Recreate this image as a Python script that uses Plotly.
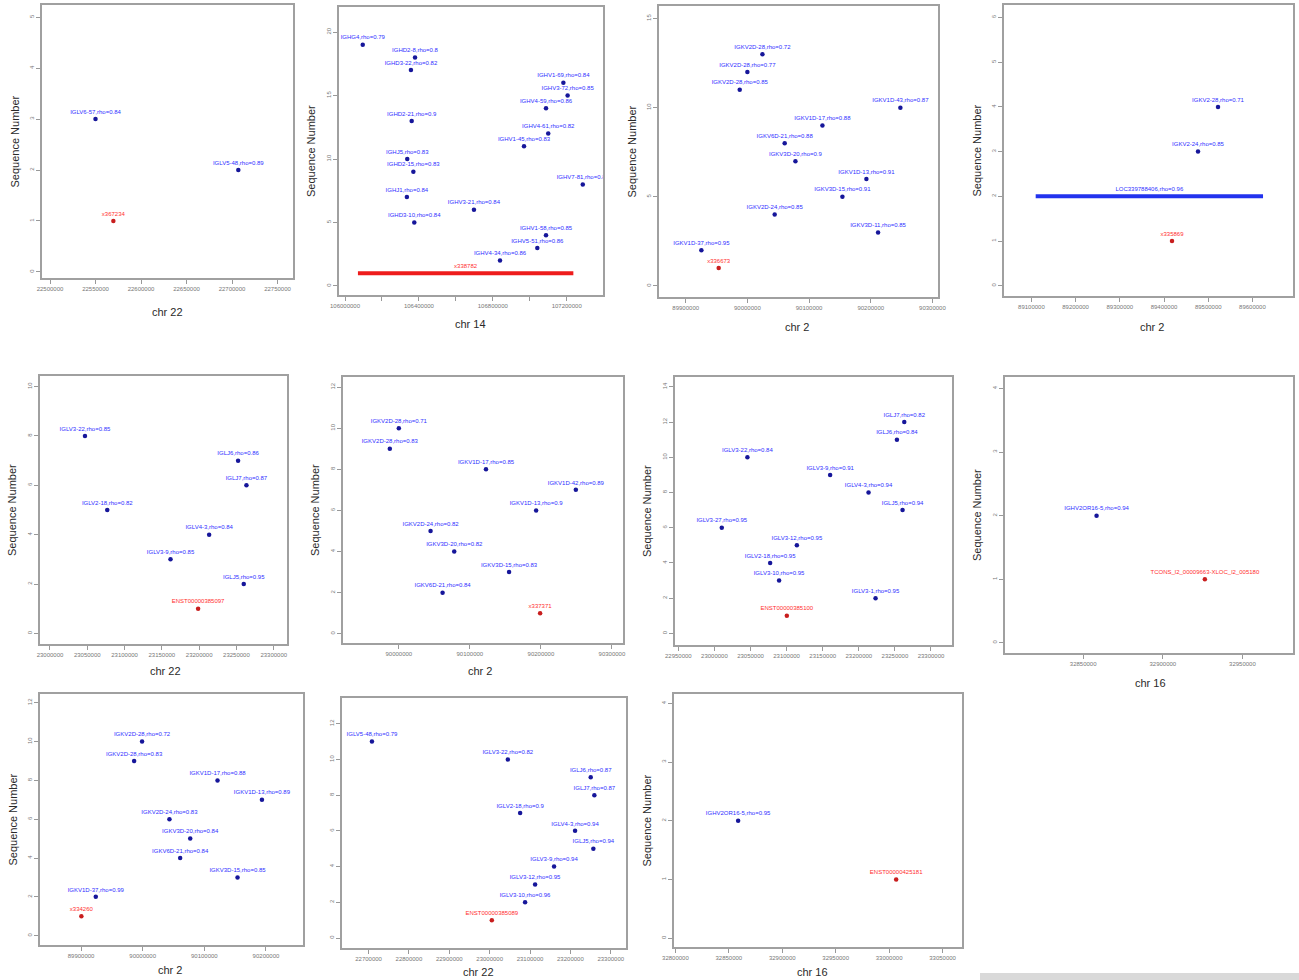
import plotly.graph_objects as go

W, H = 1299, 980

# ---------------- data ----------------
# Panel 1 (chr 22)
P1_GENES = ["IGLV6-57,rho=0.84", "IGLV5-48,rho=0.89"]
P1_POS = [22550000, 22706900]
P1_SEQ = [3, 2]
P1_TARGET = ["x367234"]
P1_TARGET_POS = [22569600]
P1_TARGET_SEQ = [1]
P1_XTICKS = [22500000, 22550000, 22600000, 22650000, 22700000, 22750000]
P1_YTICKS = [0, 1, 2, 3, 4, 5]

# Panel 2 (chr 14)
P2_GENES = ["IGHG4,rho=0.79", "IGHD2-8,rho=0.8", "IGHD3-22,rho=0.82", "IGHV1-69,rho=0.84",
            "IGHV3-72,rho=0.85", "IGHV4-59,rho=0.86", "IGHD2-21,rho=0.9", "IGHV4-61,rho=0.82",
            "IGHV1-45,rho=0.83", "IGHJ5,rho=0.83", "IGHD2-15,rho=0.83", "IGHV7-81,rho=0.84",
            "IGHJ1,rho=0.84", "IGHV3-21,rho=0.84", "IGHD3-10,rho=0.84", "IGHV1-58,rho=0.85",
            "IGHV5-51,rho=0.86", "IGHV4-34,rho=0.86"]
P2_POS = [106096000, 106379000, 106357000, 107182000, 107205000, 107088000, 106361000,
          107100000, 106969000, 106337000, 106370000, 107287000, 106335000, 106698000,
          106375000, 107088000, 107041000, 106839000]
P2_SEQ = [19, 18, 17, 16, 15, 14, 13, 12, 11, 10, 9, 8, 7, 6, 5, 4, 3, 2]
P2_TARGET = ["x338782"]
P2_TARGET_START = [106070000]
P2_TARGET_END = [107236000]
P2_TARGET_SEQ = [1]
P2_XTICKS = [106000000, 106200000, 106400000, 106600000, 106800000, 107000000, 107200000]
P2_XTICKTEXT = ["106000000", "", "106400000", "", "106800000", "", "107200000"]
P2_YTICKS = [0, 5, 10, 15, 20]

# Panel 3 (chr 2)
P3_GENES = ["IGKV2D-28,rho=0.72", "IGKV2D-28,rho=0.77", "IGKV2D-28,rho=0.85", "IGKV1D-43,rho=0.87",
            "IGKV1D-17,rho=0.88", "IGKV6D-21,rho=0.88", "IGKV3D-20,rho=0.9", "IGKV1D-13,rho=0.91",
            "IGKV3D-15,rho=0.91", "IGKV2D-24,rho=0.85", "IGKV3D-11,rho=0.85", "IGKV1D-37,rho=0.95"]
P3_POS = [90024400, 90000000, 89987600, 90248100, 90121700, 90060500, 90077900, 90193000,
          90154100, 90044300, 90211900, 89925400]
P3_SEQ = [13, 12, 11, 10, 9, 8, 7, 6, 5, 4, 3, 2]
P3_TARGET = ["x336673"]
P3_TARGET_POS = [89953500]
P3_TARGET_SEQ = [1]
P3_XTICKS = [89900000, 90000000, 90100000, 90200000, 90300000]
P3_YTICKS = [0, 5, 10, 15]

# Panel 4 (chr 2)
P4_GENES = ["IGKV2-28,rho=0.71", "IGKV2-24,rho=0.85"]
P4_POS = [89522200, 89476900]
P4_SEQ = [4, 3]
P4_SEG = ["LOC339788406,rho=0.96"]
P4_SEG_START = [89109700]
P4_SEG_END = [89624000]
P4_SEG_SEQ = [2]
P4_TARGET = ["x335869"]
P4_TARGET_POS = [89418100]
P4_TARGET_SEQ = [1]
P4_XTICKS = [89100000, 89200000, 89300000, 89400000, 89500000, 89600000]
P4_YTICKS = [0, 1, 2, 3, 4, 5, 6]

# Panel 5 (chr 22)
P5_GENES = ["IGLV3-22,rho=0.85", "IGLJ6,rho=0.86", "IGLJ7,rho=0.87", "IGLV2-18,rho=0.82",
            "IGLV4-3,rho=0.84", "IGLV3-9,rho=0.85", "IGLJ5,rho=0.95"]
P5_POS = [23046900, 23252200, 23263400, 23076800, 23213400, 23161600, 23259800]
P5_SEQ = [8, 7, 6, 5, 4, 3, 2]
P5_TARGET = ["ENST00000385097"]
P5_TARGET_POS = [23198600]
P5_TARGET_SEQ = [1]
P5_XTICKS = [23000000, 23050000, 23100000, 23150000, 23200000, 23250000, 23300000]
P5_YTICKS = [0, 2, 4, 6, 8, 10]

# Panel 6 (chr 2)
P6_GENES = ["IGKV2D-28,rho=0.71", "IGKV2D-28,rho=0.83", "IGKV1D-17,rho=0.85", "IGKV1D-42,rho=0.89",
            "IGKV1D-13,rho=0.9", "IGKV2D-24,rho=0.82", "IGKV3D-20,rho=0.82", "IGKV3D-15,rho=0.83",
            "IGKV6D-21,rho=0.84"]
P6_POS = [90000000, 89987300, 90122700, 90249200, 90193300, 90044700, 90078000, 90155200, 90061600]
P6_SEQ = [10, 9, 8, 7, 6, 5, 4, 3, 2]
P6_TARGET = ["x337371"]
P6_TARGET_POS = [90198900]
P6_TARGET_SEQ = [1]
P6_XTICKS = [90000000, 90100000, 90200000, 90300000]
P6_YTICKS = [0, 2, 4, 6, 8, 10, 12]

# Panel 7 (chr 22)
P7_GENES = ["IGLJ7,rho=0.82", "IGLJ6,rho=0.84", "IGLV3-22,rho=0.84", "IGLV3-9,rho=0.91",
            "IGLV4-3,rho=0.94", "IGLJ5,rho=0.94", "IGLV3-27,rho=0.95", "IGLV3-12,rho=0.95",
            "IGLV2-18,rho=0.95", "IGLV3-10,rho=0.95", "IGLV3-1,rho=0.95"]
P7_POS = [23263000, 23252800, 23045700, 23160300, 23213500, 23260600, 23010200, 23114200,
          23077200, 23089600, 23223200]
P7_SEQ = [12, 11, 10, 9, 8, 7, 6, 5, 4, 3, 2]
P7_TARGET = ["ENST00000385100"]
P7_TARGET_POS = [23100300]
P7_TARGET_SEQ = [1]
P7_XTICKS = [22950000, 23000000, 23050000, 23100000, 23150000, 23200000, 23250000, 23300000]
P7_YTICKS = [0, 2, 4, 6, 8, 10, 12, 14]

# Panel 8 (chr 16)
P8_GENES = ["IGHV2OR16-5,rho=0.94"]
P8_POS = [32858400]
P8_SEQ = [2]
P8_TARGET = ["TCONS_l2_00009663-XLOC_l2_005180"]
P8_TARGET_POS = [32926400]
P8_TARGET_SEQ = [1]
P8_XTICKS = [32850000, 32900000, 32950000]
P8_YTICKS = [0, 1, 2, 3, 4]

# Panel 9 (chr 2)
P9_GENES = ["IGKV2D-28,rho=0.72", "IGKV2D-28,rho=0.83", "IGKV1D-17,rho=0.88", "IGKV1D-13,rho=0.89",
            "IGKV2D-24,rho=0.83", "IGKV3D-20,rho=0.84", "IGKV6D-21,rho=0.84", "IGKV3D-15,rho=0.85",
            "IGKV1D-37,rho=0.99"]
P9_POS = [89999000, 89986100, 90121400, 90193500, 90043400, 90077100, 90060800, 90153900, 89923900]
P9_SEQ = [10, 9, 8, 7, 6, 5, 4, 3, 2]
P9_TARGET = ["x334260"]
P9_TARGET_POS = [89900500]
P9_TARGET_SEQ = [1]
P9_XTICKS = [89900000, 90000000, 90100000, 90200000]
P9_YTICKS = [0, 2, 4, 6, 8, 10, 12]

# Panel 10 (chr 22)
P10_GENES = ["IGLV5-48,rho=0.79", "IGLV3-22,rho=0.82", "IGLJ6,rho=0.87", "IGLJ7,rho=0.87",
             "IGLV2-18,rho=0.9", "IGLV4-3,rho=0.94", "IGLJ5,rho=0.94", "IGLV3-9,rho=0.94",
             "IGLV3-12,rho=0.95", "IGLV3-10,rho=0.96"]
P10_POS = [22708400, 23045000, 23250400, 23259400, 23075500, 23211600, 23256900, 23159600,
           23112600, 23087800]
P10_SEQ = [11, 10, 9, 8, 7, 6, 5, 4, 3, 2]
P10_TARGET = ["ENST00000385089"]
P10_TARGET_POS = [23005400]
P10_TARGET_SEQ = [1]
P10_XTICKS = [22700000, 22800000, 22900000, 23000000, 23100000, 23200000, 23300000]
P10_YTICKS = [0, 2, 4, 6, 8, 10, 12]

# Panel 11 (chr 16)
P11_GENES = ["IGHV2OR16-5,rho=0.95"]
P11_POS = [32858700]
P11_SEQ = [2]
P11_TARGET = ["ENST00000425181"]
P11_TARGET_POS = [33006600]
P11_TARGET_SEQ = [1]
P11_XTICKS = [32800000, 32850000, 32900000, 32950000, 33000000, 33050000]
P11_YTICKS = [0, 1, 2, 3, 4]

# ---------------- panel layout (pixel boxes: left, top, right, bottom) ----------------
PANELS = [
    dict(genes=(P1_GENES, P1_POS, P1_SEQ), target=(P1_TARGET, P1_TARGET_POS, P1_TARGET_SEQ),
         xt=P1_XTICKS, yt=P1_YTICKS, box=(42, 5, 293, 278), xr=[22491200, 22767000], yr=[-0.12, 5.24],
         xtitle=("chr 22", 167, 312), ytitle=True),
    dict(genes=(P2_GENES, P2_POS, P2_SEQ),
         tseg=(P2_TARGET, P2_TARGET_START, P2_TARGET_END, P2_TARGET_SEQ),
         xt=P2_XTICKS, xtt=P2_XTICKTEXT, yt=P2_YTICKS, box=(339, 7, 603, 295),
         xr=[105967500, 107396500], yr=[-0.71, 21.97], xtitle=("chr 14", 470, 324), ytitle=True),
    dict(genes=(P3_GENES, P3_POS, P3_SEQ), target=(P3_TARGET, P3_TARGET_POS, P3_TARGET_SEQ),
         xt=P3_XTICKS, yt=P3_YTICKS, box=(659, 6, 938, 297), xr=[89856700, 90309100], yr=[-0.62, 15.7],
         xtitle=("chr 2", 797, 327), ytitle=True),
    dict(genes=(P4_GENES, P4_POS, P4_SEQ), bseg=(P4_SEG, P4_SEG_START, P4_SEG_END, P4_SEG_SEQ),
         target=(P4_TARGET, P4_TARGET_POS, P4_TARGET_SEQ),
         xt=P4_XTICKS, yt=P4_YTICKS, box=(1004, 5, 1293, 296), xr=[89038000, 89691800], yr=[-0.23, 6.28],
         xtitle=("chr 2", 1152, 327), ytitle=True),
    dict(genes=(P5_GENES, P5_POS, P5_SEQ), target=(P5_TARGET, P5_TARGET_POS, P5_TARGET_SEQ),
         xt=P5_XTICKS, yt=P5_YTICKS, box=(40, 376, 287, 644), xr=[22986600, 23317800], yr=[-0.43, 10.43],
         xtitle=("chr 22", 165, 671), ytitle=True),
    dict(genes=(P6_GENES, P6_POS, P6_SEQ), target=(P6_TARGET, P6_TARGET_POS, P6_TARGET_SEQ),
         xt=P6_XTICKS, yt=P6_YTICKS, box=(343, 377, 623, 643), xr=[89921400, 90315600], yr=[-0.45, 12.49],
         xtitle=("chr 2", 480, 671), ytitle=True),
    dict(genes=(P7_GENES, P7_POS, P7_SEQ), target=(P7_TARGET, P7_TARGET_POS, P7_TARGET_SEQ),
         xt=P7_XTICKS, yt=P7_YTICKS, box=(675, 377, 952, 645), xr=[22945400, 23329100], yr=[-0.66, 14.56],
         xtitle=None, ytitle=True),
    dict(genes=(P8_GENES, P8_POS, P8_SEQ), target=(P8_TARGET, P8_TARGET_POS, P8_TARGET_SEQ),
         xt=P8_XTICKS, yt=P8_YTICKS, box=(1005, 377, 1293, 653), xr=[32800900, 32981750], yr=[-0.16, 4.18],
         xtitle=("chr 16", 1150, 683), ytitle=True),
    dict(genes=(P9_GENES, P9_POS, P9_SEQ), target=(P9_TARGET, P9_TARGET_POS, P9_TARGET_SEQ),
         xt=P9_XTICKS, yt=P9_YTICKS, box=(40, 694, 303, 945), xr=[89833400, 90260100], yr=[-0.48, 12.45],
         xtitle=("chr 2", 170, 970), ytitle=True),
    dict(genes=(P10_GENES, P10_POS, P10_SEQ), target=(P10_TARGET, P10_TARGET_POS, P10_TARGET_SEQ),
         xt=P10_XTICKS, yt=P10_YTICKS, box=(342, 698, 626, 948), xr=[22634200, 23337800], yr=[-0.56, 13.44],
         xtitle=("chr 22", 478, 972), ytitle=False),
    dict(genes=(P11_GENES, P11_POS, P11_SEQ), target=(P11_TARGET, P11_TARGET_POS, P11_TARGET_SEQ),
         xt=P11_XTICKS, yt=P11_YTICKS, box=(674, 694, 962, 947), xr=[32798700, 33068200], yr=[-0.15, 4.16],
         xtitle=("chr 16", 813, 972), ytitle=True),
]

FONT = "Liberation Sans, Arial, sans-serif"
BLUE_TXT = "#2f2fff"
BLUE_PT = "#16169a"
RED_TXT = "#ff2f2f"
RED_PT = "#c81e1e"
LBL_SIZE = 6

fig = go.Figure()
layout = dict(width=W, height=H, margin=dict(l=0, r=0, t=0, b=0, pad=0), autosize=False,
              paper_bgcolor="white", plot_bgcolor="white", showlegend=False,
              font=dict(family=FONT))
annotations = []


def seg_traces(labs, st, en, sq, line_col, txt_col, xa, ya):
    for lab, s, e, q in zip(labs, st, en, sq):
        fig.add_trace(go.Scatter(x=[s, e], y=[q, q], mode="lines", xaxis=xa, yaxis=ya,
                                 line=dict(color=line_col, width=4), hoverinfo="skip"))
        fig.add_trace(go.Scatter(x=[(s + e) / 2], y=[q], mode="markers+text", text=[lab],
                                 xaxis=xa, yaxis=ya, textposition="top center",
                                 marker=dict(size=5, opacity=0),
                                 textfont=dict(size=LBL_SIZE, color=txt_col, family=FONT)))


for i, p in enumerate(PANELS, start=1):
    xa = "x" if i == 1 else f"x{i}"
    ya = "y" if i == 1 else f"y{i}"
    l, t, r, b = p["box"]

    if "bseg" in p:
        seg_traces(*p["bseg"], "#2233ee", BLUE_TXT, xa, ya)
    if "tseg" in p:
        seg_traces(*p["tseg"], "#ee1c1c", RED_TXT, xa, ya)

    labs, pos, sq = p["genes"]
    fig.add_trace(go.Scatter(x=pos, y=sq, text=labs, mode="markers+text", xaxis=xa, yaxis=ya,
                             textposition="top center",
                             marker=dict(size=4.5, color=BLUE_PT),
                             textfont=dict(size=LBL_SIZE, color=BLUE_TXT, family=FONT)))
    if "target" in p:
        labs, pos, sq = p["target"]
        fig.add_trace(go.Scatter(x=pos, y=sq, text=labs, mode="markers+text", xaxis=xa, yaxis=ya,
                                 textposition="top center",
                                 marker=dict(size=4.5, color=RED_PT),
                                 textfont=dict(size=LBL_SIZE, color=RED_TXT, family=FONT)))

    xtt = p.get("xtt", [str(v) for v in p["xt"]])
    axis_common = dict(showline=True, mirror=True, linecolor="#a0a0a0", linewidth=1.6,
                       ticks="outside", ticklen=4, tickwidth=1, tickcolor="#999999",
                       showgrid=False, zeroline=False, automargin=False,
                       tickfont=dict(size=6, color="#777777", family=FONT))
    layout["xaxis" if i == 1 else f"xaxis{i}"] = dict(
        domain=[l / W, r / W], range=p["xr"], anchor=ya,
        tickmode="array", tickvals=p["xt"], ticktext=xtt, tickangle=0, **axis_common)
    layout["yaxis" if i == 1 else f"yaxis{i}"] = dict(
        domain=[1 - b / H, 1 - t / H], range=p["yr"], anchor=xa,
        tickmode="array", tickvals=p["yt"], ticktext=[str(v) for v in p["yt"]], tickangle=-90,
        **axis_common)

    if p["xtitle"]:
        txt, cx, cy = p["xtitle"]
        annotations.append(dict(text=txt, x=cx / W, y=1 - cy / H, xref="paper", yref="paper",
                                xanchor="center", yanchor="middle", showarrow=False,
                                font=dict(size=11, color="#2a2a2a", family=FONT)))
    if p["ytitle"]:
        annotations.append(dict(text="Sequence Number", x=(l - 28) / W, y=1 - (t + b) / 2 / H,
                                xref="paper", yref="paper", xanchor="center", yanchor="middle",
                                textangle=-90, showarrow=False,
                                font=dict(size=11, color="#2a2a2a", family=FONT)))

layout["annotations"] = annotations
layout["shapes"] = [dict(type="rect", xref="paper", yref="paper", x0=980 / W, x1=1, y0=0, y1=7 / H,
                         fillcolor="#d9d9d9", line=dict(width=0), layer="below")]
fig.update_layout(**layout)
fig.write_html("out.html", config={"displayModeBar": False},
               post_script="document.body.style.margin='0';document.body.style.overflow='hidden';")
